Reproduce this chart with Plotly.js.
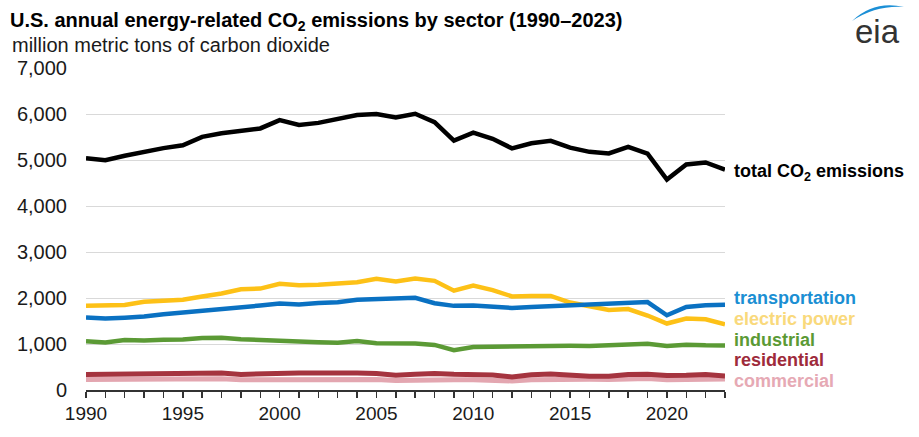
<!DOCTYPE html>
<html>
<head>
<meta charset="utf-8">
<script src="https://cdn.plot.ly/plotly-3.0.1.min.js"></script>
<style>html,body{margin:0;padding:0;background:#fff;}#chart{width:919px;height:437px;}</style>
</head>
<body>
<div id="chart"></div>
<script>
const years = [];
for (let y = 1990; y <= 2023; y++) years.push(y);

const total = [5039,4996,5093,5185,5258,5319,5503,5580,5626,5686,5867,5763,5807,5882,5977,5999,5926,6006,5822,5423,5593,5460,5253,5365,5418,5268,5177,5143,5286,5139,4576,4903,4946,4793];
const transportation = [1578,1553,1572,1597,1647,1681,1726,1748,1786,1836,1878,1858,1893,1907,1963,1983,2002,2003,1886,1829,1839,1818,1783,1803,1823,1844,1876,1892,1912,1912,1625,1805,1842,1851];
const electricPower = [1831,1828,1846,1919,1949,1963,2033,2099,2190,2205,2310,2275,2288,2314,2341,2416,2359,2425,2373,2160,2271,2171,2035,2045,2046,1901,1812,1741,1760,1619,1445,1552,1537,1430];
const industrial = [1060,1032,1085,1075,1090,1097,1131,1134,1102,1082,1077,1055,1040,1029,1064,1018,1025,1012,980,866,935,944,948,966,975,960,957,975,1002,1004,958,985,972,969];
const residential = [338,344,353,370,358,360,387,372,339,356,378,370,372,383,371,359,321,341,358,340,340,328,282,330,347,318,299,297,338,343,315,320,337,306];
const commercial = [228,232,232,231,231,232,243,245,225,226,232,232,230,239,235,226,209,220,226,224,224,220,196,221,231,244,231,230,246,251,223,230,245,238];

const seriesNames = ['commercial','residential','industrial','electric power','transportation','total CO<sub>2</sub> emissions'];
const seriesData = [commercial, residential, industrial, electricPower, transportation, total];
const lineColors = ['#e3a6b0','#a5343f','#5b9a35','#fdc117','#0a71c2','#000000'];
const labelColors = ['#e6a9b4','#9e2b3b','#5b9a35','#f9d97c','#1b8fd3','#000000'];
const labelY = [196, 652, 1087, 1543, 2000, 4739];

const yTicks = [0,1000,2000,3000,4000,5000,6000,7000];
const yTickText = ['0','1,000','2,000','3,000','4,000','5,000','6,000','7,000'];
const xTickText = years.map(y => (y % 5 === 0 ? String(y) : ''));

const traces = seriesData.map((d, i) => ({
  x: years, y: d, type: 'scatter', mode: 'lines', name: seriesNames[i],
  line: {color: lineColors[i], width: i < 2 ? 5 : 4.5},
  hoverinfo: 'skip'
}));

// plot area in pixels
const L = 86, R = 725, T = 68, B = 390;
const W = R - L, H = B - T;
const px = (x) => (x - L) / W;
const py = (y) => (B - y) / H;

const annotations = seriesNames.map((n, i) => ({
  xref: 'paper', yref: 'y', x: 1, y: labelY[i], xanchor: 'left', yanchor: 'middle',
  xshift: 7, text: '<b>' + n + '</b>', showarrow: false,
  font: {family: 'Liberation Sans, Arial, sans-serif', size: 18, color: labelColors[i]}
}));

annotations.push({
  xref: 'paper', yref: 'paper', x: px(10), y: py(45), xanchor: 'left', yanchor: 'middle',
  text: 'million metric tons of carbon dioxide', showarrow: false,
  font: {family: 'Liberation Sans, Arial, sans-serif', size: 20, color: '#1a1a1a'}
});
annotations.push({
  xref: 'paper', yref: 'paper', x: px(877), y: py(31), xanchor: 'center', yanchor: 'middle',
  text: 'eia', showarrow: false,
  font: {family: 'Liberation Sans, Arial, sans-serif', size: 33, color: '#333333'}
});

const arcPath = 'M ' + px(852) + ',' + py(21) +
  ' Q ' + px(874) + ',' + py(0) + ' ' + px(904) + ',' + py(7) +
  ' Q ' + px(876) + ',' + py(5) + ' ' + px(852) + ',' + py(21) + ' Z';

const layout = {
  width: 919, height: 437,
  margin: {l: L, r: 919 - R, t: T, b: 437 - B},
  paper_bgcolor: '#ffffff', plot_bgcolor: '#ffffff',
  showlegend: false,
  title: {
    text: '<b>U.S. annual energy-related CO<sub>2</sub> emissions by sector (1990–2023)</b>',
    xref: 'container', yref: 'container', x: 10/919, y: 1 - 20/437,
    xanchor: 'left', yanchor: 'middle',
    font: {family: 'Liberation Sans, Arial, sans-serif', size: 20, color: '#000000'}
  },
  xaxis: {
    range: [1990, 2023], tickmode: 'array', tickvals: years, ticktext: xTickText,
    ticks: 'outside', ticklen: 6, tickwidth: 1.5, tickcolor: '#333333',
    showline: true, linecolor: '#333333', linewidth: 1.5,
    showgrid: false, zeroline: false,
    tickfont: {family: 'Liberation Sans Narrow, Arial Narrow, Liberation Sans, sans-serif', size: 19, color: '#1a1a1a'}
  },
  yaxis: {
    range: [0, 7000], tickmode: 'array', tickvals: yTicks, ticktext: yTickText,
    ticks: 'outside', ticklen: 14, tickcolor: 'rgba(0,0,0,0)',
    showgrid: true, gridcolor: '#d9d9d9', gridwidth: 1, zeroline: false, showline: false,
    tickfont: {family: 'Liberation Sans, Arial, sans-serif', size: 20, color: '#1a1a1a'}
  },
  annotations: annotations,
  shapes: [{type: 'path', xref: 'paper', yref: 'paper', path: arcPath, fillcolor: '#1b8fd6', line: {width: 0}}]
};

Plotly.newPlot('chart', traces, layout, {displayModeBar: false, staticPlot: true});
</script>
</body>
</html>
